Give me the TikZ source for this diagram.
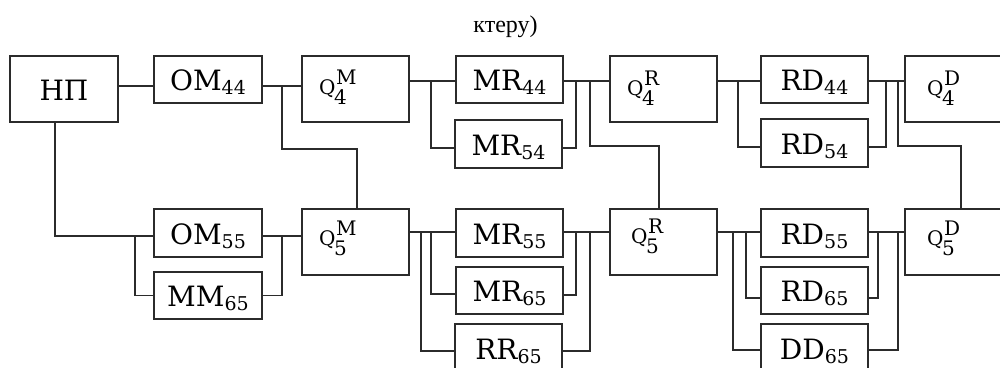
\documentclass[tikz,border=0pt]{standalone}
\usepackage{fontspec}
\setmainfont{DejaVu Serif}
\newfontfamily\headfont{Liberation Serif}
\definecolor{ink}{HTML}{2B2B2B}
% block label: big letters with a lowered index
\newcommand\blab[2]{{\fontsize{28}{30}\selectfont #1}\raisebox{-4pt}{\fontsize{19}{20}\selectfont #2}}
% Q with a lower index and an upper index
\newcommand\qlab[2]{\fontsize{20}{22}\selectfont Q\kern-1.5pt\rlap{\kern2pt\raisebox{10pt}{#2}}\raisebox{-10pt}{#1}}

\begin{document}
\begin{tikzpicture}[x=1pt,y=-1pt,
  wire/.style={draw=ink,line width=1.5pt},
  blk/.style={draw=ink,line width=1.5pt,inner sep=0pt,outer sep=0pt,
    minimum width=107pt,minimum height=47pt,text height=22pt,text depth=0pt},
  tallblk/.style={blk,minimum height=66pt},
  qtxt/.style={anchor=base west,inner sep=0pt}]
\useasboundingbox (0,0) rectangle (1000,367);
\clip (0,0) rectangle (1000,367);

\node[font=\headfont\fontsize{24}{26}\selectfont,anchor=base,inner sep=0pt] (hd) at (505.5,32) {ктеру)};

% blocks
\node[tallblk,minimum width=108pt] (np) at (64,89) {\fontsize{28}{30}\selectfont НП};
\node[blk,minimum width=108pt] (om44) at (208,79.5) {\blab{OM}{44}};
\node[blk,minimum width=108pt,minimum height=48pt] (om55) at (208,233) {\blab{OM}{55}};
\node[blk,minimum width=108pt] (mm65) at (208,295.5) {\blab{MM}{65}};

\node[tallblk] (q4m) at (355.5,89) {};
\node[tallblk] (q5m) at (355.5,242) {};

\node[blk] (mr44) at (509.5,79.5) {\blab{MR}{44}};
\node[blk,minimum height=48pt] (mr54) at (508.5,144) {\blab{MR}{54}};
\node[blk,minimum height=48pt] (mr55) at (509.5,233) {\blab{MR}{55}};
\node[blk] (mr65) at (509.5,290.5) {\blab{MR}{65}};
\node[blk,minimum height=48pt] (rr65) at (508.5,348) {\blab{RR}{65}};

\node[tallblk] (q4r) at (663.5,89) {};
\node[tallblk] (q5r) at (663.5,242) {};

\node[blk] (rd44) at (814.5,79.5) {\blab{RD}{44}};
\node[blk,minimum height=48pt] (rd54) at (814.5,143) {\blab{RD}{54}};
\node[blk,minimum height=48pt] (rd55) at (814.5,233) {\blab{RD}{55}};
\node[blk] (rd65) at (814.5,290.5) {\blab{RD}{65}};
\node[blk,minimum height=48pt] (dd65) at (814.5,348) {\blab{DD}{65}};

\node[tallblk,minimum width=110pt] (q4d) at (960,89) {};
\node[tallblk,minimum width=110pt] (q5d) at (960,242) {};

% Q labels
\node[qtxt] (lq4m) at (319,94) {\qlab{4}{M}};
\node[qtxt] (lq5m) at (319,245) {\qlab{5}{M}};
\node[qtxt] (lq4r) at (627,95) {\qlab{4}{R}};
\node[qtxt] (lq5r) at (631,243) {\qlab{5}{R}};
\node[qtxt] (lq4d) at (927,95) {\qlab{4}{D}};
\node[qtxt] (lq5d) at (927,245) {\qlab{5}{D}};

% junction points, upper row
\coordinate (j1) at (282,86);
\coordinate (j2) at (357,149);
\coordinate (j3) at (431,81);  \coordinate (j3b) at (431,148);
\coordinate (j4) at (576,81);  \coordinate (j4b) at (576,148);
\coordinate (j5) at (590,81);  \coordinate (j5b) at (659,146);
\coordinate (j6) at (738,81);  \coordinate (j6b) at (738,147);
\coordinate (j7) at (886,81);  \coordinate (j7b) at (886,147);
\coordinate (j8) at (898,81);  \coordinate (j8b) at (961,146);

\draw[wire] (np.east|-j1) -- (om44.west|-j1);
\draw[wire] (om44.east|-j1) -- (q4m.west|-j1);
\draw[wire] (j1) |- (j2) -- (j2|-q5m.north);
\draw[wire] (q4m.east|-j3) -- (mr44.west|-j3);
\draw[wire] (j3) -- (j3b) -- (mr54.west|-j3b);
\draw[wire] (mr44.east|-j4) -- (q4r.west|-j4);
\draw[wire] (j4) -- (j4b) -- (mr54.east|-j4b);
\draw[wire] (j5) |- (j5b) -- (j5b|-q5r.north);
\draw[wire] (q4r.east|-j6) -- (rd44.west|-j6);
\draw[wire] (j6) -- (j6b) -- (rd54.west|-j6b);
\draw[wire] (rd44.east|-j7) -- (q4d.west|-j7);
\draw[wire] (j7) -- (j7b) -- (rd54.east|-j7b);
\draw[wire] (j8) |- (j8b) -- (j8b|-q5d.north);

% junction points, lower row
\coordinate (k0) at (55,236);
\coordinate (k1) at (135,236);
\coordinate (k2) at (282,236);
\coordinate (k3) at (431,232); \coordinate (k3b) at (431,294);
\coordinate (k4) at (421,232); \coordinate (k4b) at (421,351);
\coordinate (k5) at (576,232); \coordinate (k5b) at (576,295);
\coordinate (k6) at (590,232); \coordinate (k6b) at (590,351);
\coordinate (k7) at (746,232); \coordinate (k7b) at (746,298);
\coordinate (k8) at (733,232); \coordinate (k8b) at (733,350);
\coordinate (k9) at (878,232); \coordinate (k9b) at (878,298);
\coordinate (k10) at (898,232); \coordinate (k10b) at (898,350);

\draw[wire] ([xshift=-9pt]np.south) |- (om55.west|-k0);
\draw[wire] (k1) |- (mm65.west);
\draw[wire] (om55.east|-k2) -- (q5m.west|-k2);
\draw[wire] (k2) |- (mm65.east);
\draw[wire] (q5m.east|-k3) -- (mr55.west|-k3);
\draw[wire] (k3) -- (k3b) -- (mr65.west|-k3b);
\draw[wire] (k4) -- (k4b) -- (rr65.west|-k4b);
\draw[wire] (mr55.east|-k5) -- (q5r.west|-k5);
\draw[wire] (k5) -- (k5b) -- (mr65.east|-k5b);
\draw[wire] (k6) -- (k6b) -- (rr65.east|-k6b);
\draw[wire] (q5r.east|-k7) -- (rd55.west|-k7);
\draw[wire] (k7) -- (k7b) -- (rd65.west|-k7b);
\draw[wire] (k8) -- (k8b) -- (dd65.west|-k8b);
\draw[wire] (rd55.east|-k9) -- (q5d.west|-k9);
\draw[wire] (k9) -- (k9b) -- (rd65.east|-k9b);
\draw[wire] (k10) -- (k10b) -- (dd65.east|-k10b);
\end{tikzpicture}
\end{document}
